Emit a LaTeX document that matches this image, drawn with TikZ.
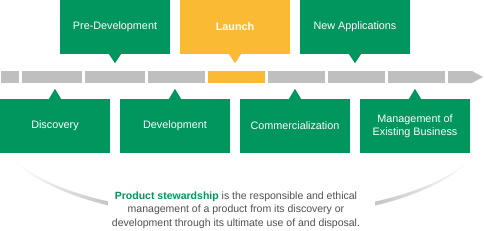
\documentclass[tikz,border=0pt]{standalone}
\usepackage{fontspec}
\setmainfont{Liberation Sans}
\usetikzlibrary{calc}
\definecolor{psgreen}{HTML}{00965E}
\definecolor{psorange}{HTML}{FBBA33}
\definecolor{psgray}{HTML}{BFBFBF}
\definecolor{pstext}{HTML}{505050}
\definecolor{psarc}{HTML}{BDBDBD}
\pgfdeclarehorizontalshading{arcshade}{100bp}{color(0bp)=(white); color(25bp)=(white);
  color(37bp)=(psarc); color(63bp)=(psarc); color(75bp)=(white); color(100bp)=(white)}
\begin{document}
\begin{tikzpicture}[x=1pt,y=-1pt,
  stagebox/.style={fill=psgreen,text=white,minimum width=110pt,minimum height=54pt,
    inner sep=0pt,align=center,font=\fontsize{10.8}{13}\selectfont},
  launchbox/.style={stagebox,fill=psorange,font=\fontsize{10.8}{13}\selectfont\bfseries},
  seg/.style={fill=psgray},
]
\useasboundingbox (0,0) rectangle (484,230);

% bottom arc (crescent), later partly covered by the text block
\shade[shading=arcshade] (10,155) .. controls (80,242) and (404,242) .. (474,155)
  .. controls (404,235) and (80,235) .. (10,155) -- cycle;
\fill[white] (108,180) rectangle (375,230);

% top boxes
\node[stagebox] (pre) at (115,27) {Pre-Development};
\node[launchbox] (launch) at (235,27) {Launch};
\node[stagebox] (newapp) at (355,27) {New Applications};
\foreach \n/\c in {pre/psgreen,launch/psorange,newapp/psgreen}{
  \fill[\c] ($(\n.south)+(-6,0)$) -- ($(\n.south)+(6,0)$) -- ($(\n.south)+(0,9)$) -- cycle;
}

% timeline bar
\fill[seg] (1,71) rectangle (19,83);
\fill[seg] (22,71) rectangle (82,83);
\fill[seg] (85,71) rectangle (145,83);
\fill[seg] (148,71) rectangle (205,83);
\fill[psorange] (208,71) rectangle (265,83);
\fill[seg] (268,71) rectangle (325,83);
\fill[seg] (328,71) rectangle (385,83);
\fill[seg] (388,71) rectangle (445,83);
\fill[seg] (448,71) -- (472,71) -- (483,77) -- (472,83) -- (448,83) -- cycle;

% bottom boxes
\node[stagebox] (disc) at (55,126) {Discovery};
\node[stagebox] (dev) at (175,126) {Development};
\node[stagebox] (comm) at (295,126) {Commercialization};
\node[stagebox] (mgmt) at (415,126) {Management of\\Existing Business};
\foreach \n in {disc,dev,comm,mgmt}{
  \fill[psgreen] ($(\n.north)+(-6,0)$) -- ($(\n.north)+(6,0)$) -- ($(\n.north)+(0,-10)$) -- cycle;
}

% description
\node[text=pstext,align=center,font=\fontsize{10.5}{13.5}\selectfont,inner sep=0pt] (desc) at (236,210)
  {{\color{psgreen}\bfseries Product stewardship} is the responsible and ethical\\
   management of a product from its discovery or\\
   development through its ultimate use of and disposal.};
\end{tikzpicture}
\end{document}
